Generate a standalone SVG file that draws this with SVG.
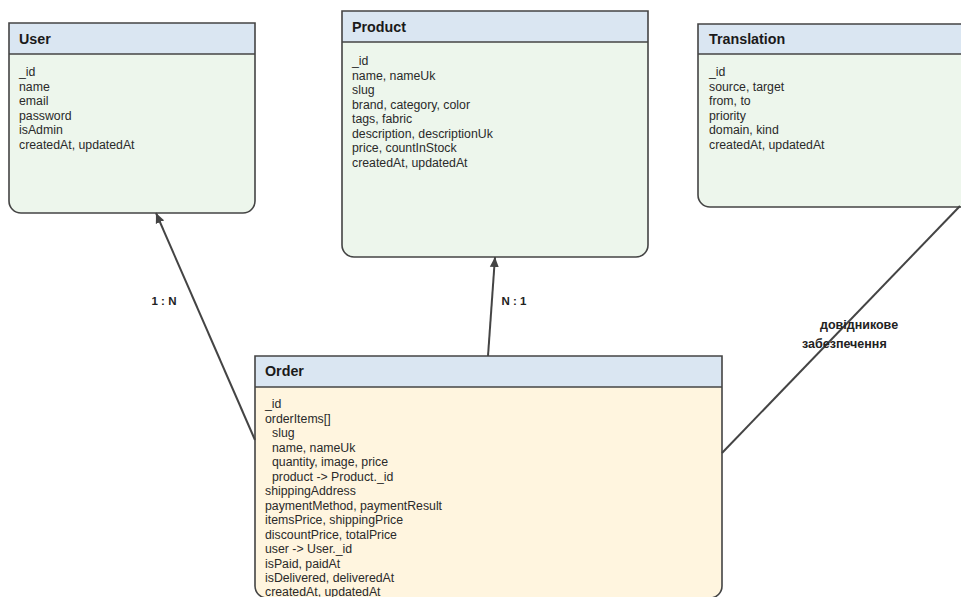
<svg xmlns="http://www.w3.org/2000/svg" width="961" height="597" viewBox="0 0 961 597">
  <defs>
    <marker id="arrow" viewBox="0 0 10 10" refX="10" refY="5" markerWidth="10" markerHeight="10" markerUnits="userSpaceOnUse" orient="auto">
      <path d="M0,0.5 L10,5 L0,9.5 Z" fill="#444"/>
    </marker>
    <style>
      .bg { fill: #ffffff; }
      .body-green { fill: #edf6ec; }
      .body-yellow { fill: #fff5df; }
      .head { fill: #dae6f2; }
      .outline { fill: none; stroke: #444; stroke-width: 1.6; }
      .divider { stroke: #444; stroke-width: 1.6; }
      .title { font-family: "Liberation Sans", Arial, sans-serif; font-size: 14.3px; font-weight: bold; fill: #1a1a1a; }
      .field { font-family: "Liberation Sans", Arial, sans-serif; font-size: 12.3px; fill: #2a2a2a; }
      .edge { fill: none; stroke: #444; stroke-width: 2; }
      .elabel { font-family: "Liberation Sans", Arial, sans-serif; font-size: 11.5px; font-weight: bold; fill: #222; }
      .note { font-family: "Liberation Sans", Arial, sans-serif; font-size: 12.5px; font-weight: bold; fill: #222; }
    </style>
  </defs>

  <rect class="bg" x="0" y="0" width="961" height="597"/>

  <!-- User entity -->
  <g id="user">
    <path class="body-green" d="M9,23 H255 V201 A12,12 0 0 1 243,213 H21 A12,12 0 0 1 9,201 Z"/>
    <rect class="head" x="9" y="23" width="246" height="31"/>
    <path class="outline" d="M9,23 H255 V201 A12,12 0 0 1 243,213 H21 A12,12 0 0 1 9,201 Z"/>
    <line class="divider" x1="9" y1="54" x2="255" y2="54"/>
    <text class="title" x="19" y="44">User</text>
    <text class="field" x="19" y="76">_id</text>
    <text class="field" x="19" y="90.5">name</text>
    <text class="field" x="19" y="105">email</text>
    <text class="field" x="19" y="119.5">password</text>
    <text class="field" x="19" y="134">isAdmin</text>
    <text class="field" x="19" y="148.5">createdAt, updatedAt</text>
  </g>

  <!-- Product entity -->
  <g id="product">
    <path class="body-green" d="M342,11 H648 V245 A12,12 0 0 1 636,257 H354 A12,12 0 0 1 342,245 Z"/>
    <rect class="head" x="342" y="11" width="306" height="31"/>
    <path class="outline" d="M342,11 H648 V245 A12,12 0 0 1 636,257 H354 A12,12 0 0 1 342,245 Z"/>
    <line class="divider" x1="342" y1="42" x2="648" y2="42"/>
    <text class="title" x="352" y="32">Product</text>
    <text class="field" x="352" y="65">_id</text>
    <text class="field" x="352" y="79.5">name, nameUk</text>
    <text class="field" x="352" y="94">slug</text>
    <text class="field" x="352" y="108.5">brand, category, color</text>
    <text class="field" x="352" y="123">tags, fabric</text>
    <text class="field" x="352" y="137.5">description, descriptionUk</text>
    <text class="field" x="352" y="152">price, countInStock</text>
    <text class="field" x="352" y="166.5">createdAt, updatedAt</text>
  </g>

  <!-- Translation entity -->
  <g id="translation">
    <path class="body-green" d="M698,24 H976 V195 A12,12 0 0 1 964,207 H710 A12,12 0 0 1 698,195 Z"/>
    <rect class="head" x="698" y="24" width="278" height="30"/>
    <path class="outline" d="M698,24 H976 V195 A12,12 0 0 1 964,207 H710 A12,12 0 0 1 698,195 Z"/>
    <line class="divider" x1="698" y1="54" x2="976" y2="54"/>
    <text class="title" x="709" y="44">Translation</text>
    <text class="field" x="709" y="76">_id</text>
    <text class="field" x="709" y="90.5">source, target</text>
    <text class="field" x="709" y="105">from, to</text>
    <text class="field" x="709" y="119.5">priority</text>
    <text class="field" x="709" y="134">domain, kind</text>
    <text class="field" x="709" y="148.5">createdAt, updatedAt</text>
  </g>

  <!-- Order entity -->
  <g id="order">
    <path class="body-yellow" d="M255,356 H722 V586 A12,12 0 0 1 710,598 H267 A12,12 0 0 1 255,586 Z"/>
    <rect class="head" x="255" y="356" width="467" height="31"/>
    <path class="outline" d="M255,356 H722 V586 A12,12 0 0 1 710,598 H267 A12,12 0 0 1 255,586 Z"/>
    <line class="divider" x1="255" y1="387" x2="722" y2="387"/>
    <text class="title" x="265" y="376">Order</text>
    <text class="field" x="265" y="408">_id</text>
    <text class="field" x="265" y="422.5">orderItems[]</text>
    <text class="field" x="272" y="437">slug</text>
    <text class="field" x="272" y="451.5">name, nameUk</text>
    <text class="field" x="272" y="466">quantity, image, price</text>
    <text class="field" x="272" y="480.5">product -&gt; Product._id</text>
    <text class="field" x="265" y="495">shippingAddress</text>
    <text class="field" x="265" y="509.5">paymentMethod, paymentResult</text>
    <text class="field" x="265" y="524">itemsPrice, shippingPrice</text>
    <text class="field" x="265" y="538.5">discountPrice, totalPrice</text>
    <text class="field" x="265" y="553">user -&gt; User._id</text>
    <text class="field" x="265" y="567.5">isPaid, paidAt</text>
    <text class="field" x="265" y="582">isDelivered, deliveredAt</text>
    <text class="field" x="265" y="596">createdAt, updatedAt</text>
  </g>

  <!-- Relations -->
  <g id="connectors">
    <line class="edge" x1="255" y1="440" x2="156" y2="213" marker-end="url(#arrow)"/>
    <text class="elabel" x="164" y="305" text-anchor="middle">1 : N</text>

    <line class="edge" x1="488" y1="356" x2="495" y2="257" marker-end="url(#arrow)"/>
    <text class="elabel" x="514" y="305" text-anchor="middle">N : 1</text>

    <line class="edge" x1="722" y1="453" x2="960" y2="206"/>
    <text class="note" x="820" y="329">довідникове</text>
    <text class="note" x="802" y="348">забезпечення</text>
  </g>
</svg>
